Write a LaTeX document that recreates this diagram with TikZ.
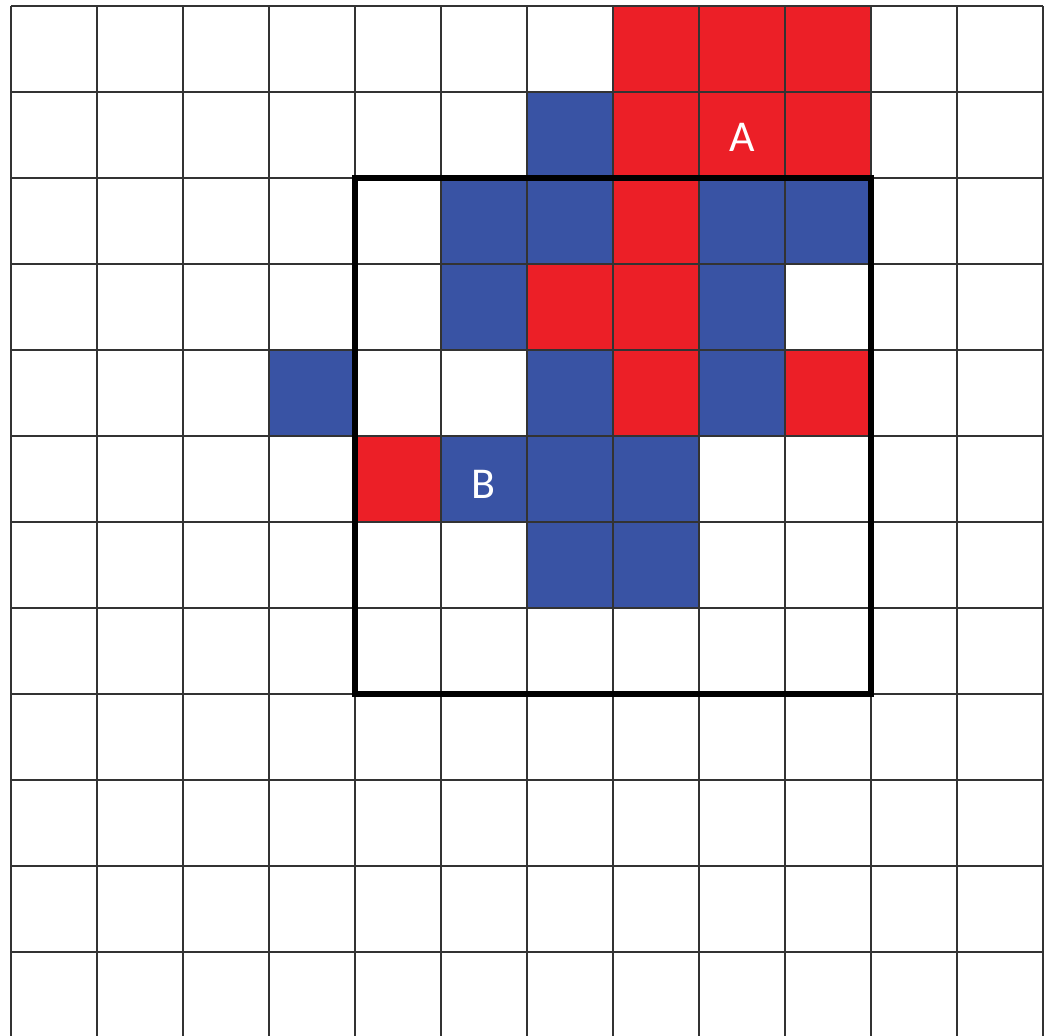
\documentclass[tikz,border=0pt]{standalone}
\usepackage{fontspec}
\setmainfont{Carlito}
\definecolor{cellred}{HTML}{EC1F27}
\definecolor{cellblue}{HTML}{3953A4}
\definecolor{gridgray}{HTML}{333333}
\tikzset{
  gridline/.style={draw=gridgray, line width=0.55pt},
  boldframe/.style={draw=black, line width=2.8pt, line cap=rect},
  redcell/.style={fill=cellred},
  bluecell/.style={fill=cellblue},
  celllabel/.style={text=white, font=\fontsize{22}{22}\selectfont, inner sep=0pt}
}
\begin{document}
\begin{tikzpicture}[x=0.5pt, y=-0.5pt]
\useasboundingbox (0,0) rectangle (1050,1036);
\fill[white] (0,0) rectangle (1050,1036);
% red cells (col,row)
\foreach \c/\r in {7/0,8/0,9/0, 7/1,8/1,9/1, 7/2, 6/3,7/3, 7/4,9/4, 4/5}
  \path[redcell] ({11+86*\c},{6+86*\r}) rectangle ++(86,86);
% blue cells
\foreach \c/\r in {6/1, 5/2,6/2,8/2,9/2, 5/3,8/3, 3/4,6/4,8/4, 5/5,6/5,7/5, 6/6,7/6}
  \path[bluecell] ({11+86*\c},{6+86*\r}) rectangle ++(86,86);
% grid
\foreach \i in {0,...,12}
  \draw[gridline] ({11+86*\i},6) -- ({11+86*\i},1036);
\foreach \j in {0,...,11}
  \draw[gridline] (11,{6+86*\j}) -- (1043,{6+86*\j});
% bold frame
\draw[boldframe] (355,178) rectangle (871,694);
% labels
\node[celllabel] (A) at (742,137) {A};
\node[celllabel] (B) at (483,484) {B};
\end{tikzpicture}
\end{document}
